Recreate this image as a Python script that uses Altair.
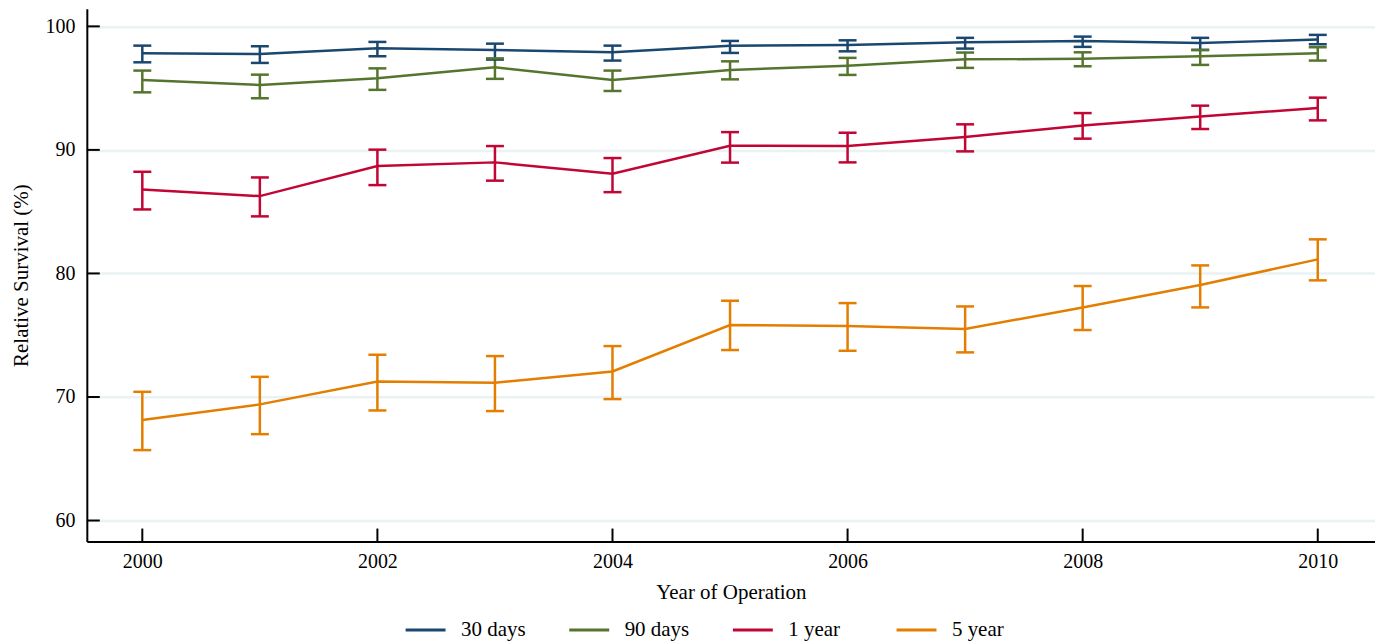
import altair as alt
import pandas as pd

years = list(range(2000, 2011))
series_names = ["30 days", "90 days", "1 year", "5 year"]
colors = ["#1a476f", "#55752f", "#c10534", "#e37e00"]

d30 = [97.82, 97.77, 98.22, 98.09, 97.90, 98.44, 98.50, 98.71, 98.82, 98.66, 98.93]
d30_hi = [98.44, 98.39, 98.74, 98.60, 98.44, 98.82, 98.87, 99.07, 99.17, 99.07, 99.31]
d30_lo = [97.09, 97.04, 97.58, 97.31, 97.23, 97.85, 97.98, 98.20, 98.34, 98.09, 98.55]

d90 = [95.66, 95.26, 95.80, 96.69, 95.66, 96.47, 96.82, 97.33, 97.37, 97.58, 97.82]
d90_hi = [96.42, 96.09, 96.60, 97.41, 96.42, 97.17, 97.45, 97.88, 97.90, 98.09, 98.31]
d90_lo = [94.66, 94.18, 94.86, 95.75, 94.77, 95.71, 96.07, 96.64, 96.77, 96.88, 97.23]

y1 = [86.80, 86.26, 88.69, 88.99, 88.07, 90.34, 90.31, 91.04, 91.98, 92.71, 93.39]
y1_hi = [88.23, 87.77, 90.02, 90.31, 89.34, 91.44, 91.39, 92.07, 92.98, 93.58, 94.23]
y1_lo = [85.18, 84.62, 87.15, 87.51, 86.58, 88.97, 88.99, 89.88, 90.91, 91.69, 92.39]

y5 = [68.13, 69.40, 71.26, 71.15, 72.07, 75.82, 75.74, 75.50, 77.25, 79.06, 81.14]
y5_hi = [70.42, 71.63, 73.42, 73.31, 74.12, 77.79, 77.60, 77.33, 78.98, 80.65, 82.76]
y5_lo = [65.70, 66.99, 68.91, 68.86, 69.83, 73.80, 73.74, 73.61, 75.42, 77.25, 79.44]

x_ticks = [2000, 2002, 2004, 2006, 2008, 2010]
y_ticks = [60, 70, 80, 90, 100]

rows = []
for name, c, lo, hi in [("30 days", d30, d30_lo, d30_hi), ("90 days", d90, d90_lo, d90_hi),
                        ("1 year", y1, y1_lo, y1_hi), ("5 year", y5, y5_lo, y5_hi)]:
    for yr, v, l, h in zip(years, c, lo, hi):
        rows.append({"year": yr, "series": name, "value": v, "lo": l, "hi": h})
df = pd.DataFrame(rows)

W, H = 1291, 534
FONT = "Liberation Serif"

xscale = alt.Scale(domain=[1999.528, 2010.487], nice=False, zero=False)
yscale = alt.Scale(domain=[58.3, 101.43], nice=False, zero=False)
cscale = alt.Scale(domain=series_names, range=colors)

base = alt.Chart(df)

lines = base.mark_line(strokeWidth=2.5).encode(
    x=alt.X("year:Q", scale=xscale,
            axis=alt.Axis(values=x_ticks, format="d", title="Year of Operation",
                          grid=False, ticks=False, domainColor="#000", domainWidth=2,
                          labelFontSize=20, labelFont=FONT, labelColor="#000",
                          labelPadding=10, titleFont=FONT, titleFontSize=21,
                          titleFontWeight="normal", titleColor="#000", titlePadding=10)),
    y=alt.Y("value:Q", scale=yscale,
            axis=alt.Axis(values=y_ticks, title="Relative Survival (%)",
                          grid=True, gridColor="#eaf2f3", gridWidth=2.5,
                          ticks=False, domainColor="#000", domainWidth=2,
                          labelFontSize=20, labelFont=FONT, labelColor="#000",
                          labelPadding=12, titleFont=FONT, titleFontSize=21,
                          titleFontWeight="normal", titleColor="#000", titlePadding=13)),
    color=alt.Color("series:N", scale=cscale, sort=series_names,
                    legend=alt.Legend(title=None, orient="none", legendX=318, legendY=601,
                                      direction="horizontal", columns=4,
                                      symbolType="stroke", symbolSize=1600,
                                      symbolStrokeWidth=3, labelFont=FONT,
                                      labelFontSize=21, labelColor="#000",
                                      labelOffset=14, columnPadding=37,
                                      gridAlign="all", padding=0)),
)

bars = base.mark_rule(strokeWidth=2.5).encode(
    x=alt.X("year:Q", scale=xscale),
    y=alt.Y("lo:Q", scale=yscale),
    y2="hi:Q",
    color=alt.Color("series:N", scale=cscale),
)

cap_lo = base.mark_tick(orient="horizontal", size=18, thickness=2.5, opacity=1).encode(
    x=alt.X("year:Q", scale=xscale),
    y=alt.Y("lo:Q", scale=yscale),
    color=alt.Color("series:N", scale=cscale),
)
cap_hi = base.mark_tick(orient="horizontal", size=18, thickness=2.5, opacity=1).encode(
    x=alt.X("year:Q", scale=xscale),
    y=alt.Y("hi:Q", scale=yscale),
    color=alt.Color("series:N", scale=cscale),
)

xt = alt.Chart(pd.DataFrame({"t": x_ticks})).mark_rule(color="#000", strokeWidth=2).encode(
    x=alt.X("t:Q", scale=xscale),
    y=alt.value(H - 13), y2=alt.value(H),
)
yt = alt.Chart(pd.DataFrame({"t": y_ticks})).mark_rule(color="#000", strokeWidth=2).encode(
    y=alt.Y("t:Q", scale=yscale),
    x=alt.value(0), x2=alt.value(13),
)

chart = alt.layer(lines, bars, cap_lo, cap_hi, xt, yt).properties(
    width=W, height=H, background="white",
    padding={"left": 3, "top": 0, "right": 0, "bottom": 0},
).configure_view(stroke=None)

chart.save("out.html", embed_options={"renderer": "svg", "actions": False})
